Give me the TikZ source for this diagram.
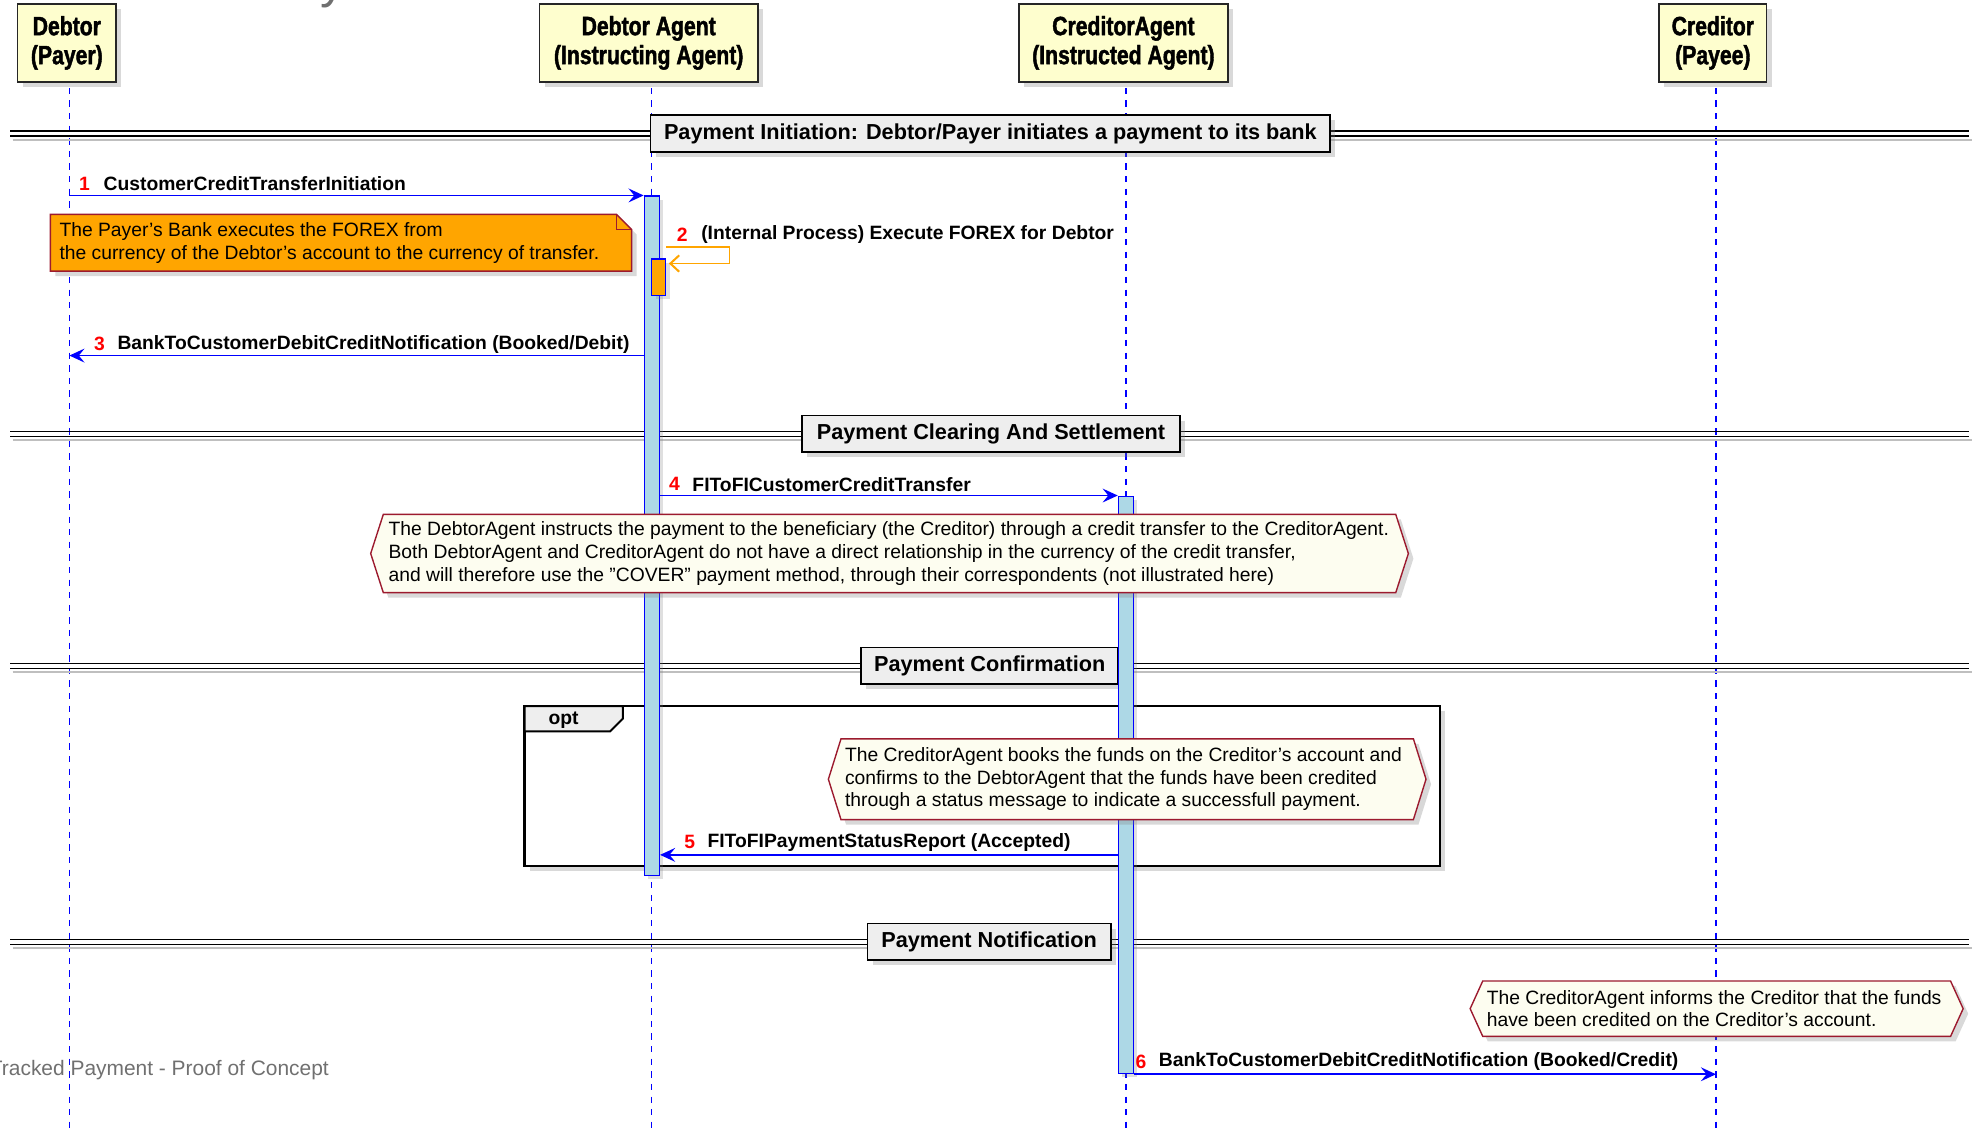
\documentclass[tikz,border=0pt]{standalone}
\usepackage{fontspec}
\setmainfont{Liberation Sans}
\newfontfamily\partfont{Liberation Sans}[FakeStretch=0.8,BoldFeatures={FakeBold=1.6}]
\usetikzlibrary{arrows.meta,shadows}

\definecolor{partfill}{HTML}{FEFECE}
\definecolor{actfill}{HTML}{ADD8E6}
\definecolor{notered}{HTML}{9C1A2E}
\definecolor{hexfill}{HTML}{FDFDF0}
\definecolor{divfill}{HTML}{EEEEEE}
\definecolor{forex}{HTML}{FFA500}
\definecolor{footgray}{HTML}{707070}

\tikzset{
  shade/.style={drop shadow={shadow xshift=4pt,shadow yshift=-4pt,opacity=.3}},
  participant/.style={draw=black!85,line width=1.3pt,fill=partfill,shade,align=center,
    font=\partfont\bfseries\fontsize{21}{23}\selectfont,minimum height=62pt,inner sep=0pt},
  lifeline/.style={blue,line width=.9pt,dash pattern=on 5pt off 5pt},
  divider/.style={draw=black,line width=1.4pt,fill=divfill,shade,minimum height=29pt,
    inner sep=0pt,font=\bfseries\fontsize{17.2}{20}\selectfont},
  actbar/.style={draw=blue,line width=1pt,fill=actfill,inner sep=0pt,
    drop shadow={shadow xshift=3pt,shadow yshift=-3pt,opacity=.25}},
  msg/.style={blue,line width=1.3pt,-{Stealth[length=12pt,width=11pt,inset=4.5pt]}},
  selfmsg/.style={forex,line width=1.2pt,-{Straight Barb[length=7pt,width=13pt,line width=1.6pt]}},
  msglabel/.style={anchor=west,inner sep=0pt,font=\bfseries\fontsize{15.3}{18}\selectfont},
  msgnum/.style={text=red,inner sep=0pt,font=\bfseries\fontsize{15.3}{18}\selectfont},
  hexnote/.style={draw=notered,line width=1.1pt,fill=hexfill,shade},
  notetext/.style={anchor=west,align=left,inner sep=0pt,font=\fontsize{15.3}{18}\selectfont},
}

\begin{document}
\begin{tikzpicture}[x=1pt,y=-1pt]
  \useasboundingbox (0,0) rectangle (1568,898);
  % piece of the title, cut by the top edge
  \node[anchor=base,inner sep=0pt,text=footgray,font=\fontsize{40}{40}\selectfont] (title) at (264,-2) {y};

  % participants and lifelines
  \node[participant,minimum width=78pt]  (debtor)   at (53,34)     {Debtor\\(Payer)};
  \node[participant,minimum width=173pt] (dagent)   at (514.5,34)  {Debtor Agent\\(Instructing Agent)};
  \node[participant,minimum width=166pt] (cagent)   at (891,34)    {CreditorAgent\\(Instructed Agent)};
  \node[participant,minimum width=85pt]  (creditor) at (1358.5,34) {Creditor\\(Payee)};
  \coordinate (llD)  at (55,898);
  \coordinate (llDA) at (517,898);
  \coordinate (llCA) at (893,898);
  \coordinate (llC)  at (1361,898);
  \foreach \p/\l in {debtor/llD,dagent/llDA,cagent/llCA,creditor/llC}
    \draw[lifeline] ([yshift=-4pt]\p.south -| \l) -- (\l);

  % section dividers
  \foreach \y in {106,344,528,747}{
    \draw[black!25,line width=1.6pt] (10,\y+5) -- (1564,\y+5);
    \draw[black,line width=1.1pt] (8,\y-2) -- (1562,\y-2) (8,\y+2) -- (1562,\y+2);
  }
  \node[divider,minimum width=539pt] (initiation) at (785.5,106) {Payment Initiation: Debtor/Payer initiates a payment to its bank};
  \node[divider,minimum width=300pt] (clearing)   at (786,344)   {Payment Clearing And Settlement};
  \node[divider,minimum width=204pt] (confirm)    at (785,528)   {Payment Confirmation};
  \node[divider,minimum width=193pt] (notify)     at (784.5,747) {Payment Notification};

  % opt frame
  \draw[line width=2pt,fill=white,shade] (416,560) rectangle (1142,687);
  \draw[line width=1.6pt,fill=divfill] (416,560) -- (494,560) -- (494,570) -- (484,580) -- (416,580) -- cycle;
  \node[inner sep=0pt,font=\bfseries\fontsize{15.3}{18}\selectfont] (opt) at (447,571) {opt};

  % activations
  \node[actbar,minimum width=12pt,minimum height=539pt,anchor=north] (actDA) at (517,155) {};
  \node[actbar,minimum width=12pt,minimum height=458pt,anchor=north] (actCA) at (893,393) {};
  \node[actbar,fill=forex,minimum width=11pt,minimum height=29pt,anchor=north] (fx) at (522.5,205) {};

  % notes
  \draw[notered,line width=1.1pt,fill=forex,shade] (40,170) -- (489,170) -- (501,182) -- (501,215) -- (40,215) -- cycle;
  \draw[notered,line width=1.1pt] (489,170) -- (489,182) -- (501,182);
  \node[notetext] (fxnote) at (47,193) {The Payer's Bank executes the FOREX from\\the currency of the Debtor's account to the currency of transfer.};

  \draw[hexnote] (294,439) -- (304,408) -- (1107,408) -- (1117,439) -- (1107,470) -- (304,470) -- cycle;
  \node[notetext] (covernote) at (308,439) {The DebtorAgent instructs the payment to the beneficiary (the Creditor) through a credit transfer to the CreditorAgent.\\Both DebtorAgent and CreditorAgent do not have a direct relationship in the currency of the credit transfer,\\and will therefore use the "COVER" payment method, through their correspondents (not illustrated here)};

  \draw[hexnote] (657,618) -- (667,586) -- (1121,586) -- (1131,618) -- (1121,650) -- (667,650) -- cycle;
  \node[notetext] (booknote) at (670,618) {The CreditorAgent books the funds on the Creditor's account and\\confirms to the DebtorAgent that the funds have been credited\\through a status message to indicate a successfull payment.};

  \draw[hexnote] (1166,800) -- (1176,778) -- (1547,778) -- (1557,800) -- (1547,822) -- (1176,822) -- cycle;
  \node[notetext] (informnote) at (1179,800) {The CreditorAgent informs the Creditor that the funds\\have been credited on the Creditor's account.};

  % messages
  \coordinate (r2a) at (0,196);
  \coordinate (r2b) at (0,209);
  \coordinate (r3)  at (0,282);
  \coordinate (r5)  at (0,678);
  \draw[msg] (llD |- actDA.north) -- (actDA.north west);
  \draw[selfmsg] (fx.east |- r2a) -- ++(50,0) -- ++(0,13) -- ([xshift=2pt]fx.east |- r2b);
  \draw[msg] (actDA.west |- r3) -- (llD |- r3);
  \draw[msg] (actDA.east |- actCA.north) -- (actCA.north west);
  \draw[msg] (actCA.west |- r5) -- (actDA.east |- r5);
  \draw[msg] (actCA.south east) -- (llC |- actCA.south);

  \node[msgnum] (n1) at (67,146)  {1};
  \node[msglabel] (m1) at (82,146)  {CustomerCreditTransferInitiation};
  \node[msgnum] (n2) at (541,186) {2};
  \node[msglabel] (m2) at (556,186) {(Internal Process) Execute FOREX for Debtor};
  \node[msgnum] (n3) at (79,273)  {3};
  \node[msglabel] (m3) at (93,273)  {BankToCustomerDebitCreditNotification (Booked/Debit)};
  \node[msgnum] (n4) at (535,384) {4};
  \node[msglabel] (m4) at (549,384) {FIToFICustomerCreditTransfer};
  \node[msgnum] (n5) at (547,668) {5};
  \node[msglabel] (m5) at (561,668) {FIToFIPaymentStatusReport (Accepted)};
  \node[msgnum] (n6) at (905,842) {6};
  \node[msglabel] (m6) at (919,842) {BankToCustomerDebitCreditNotification (Booked/Credit)};

  % footer
  \node[anchor=east,inner sep=0pt,text=footgray,font=\fontsize{16.6}{20}\selectfont] (footer) at (261,849) {Tracked Payment - Proof of Concept};
\end{tikzpicture}
\end{document}
